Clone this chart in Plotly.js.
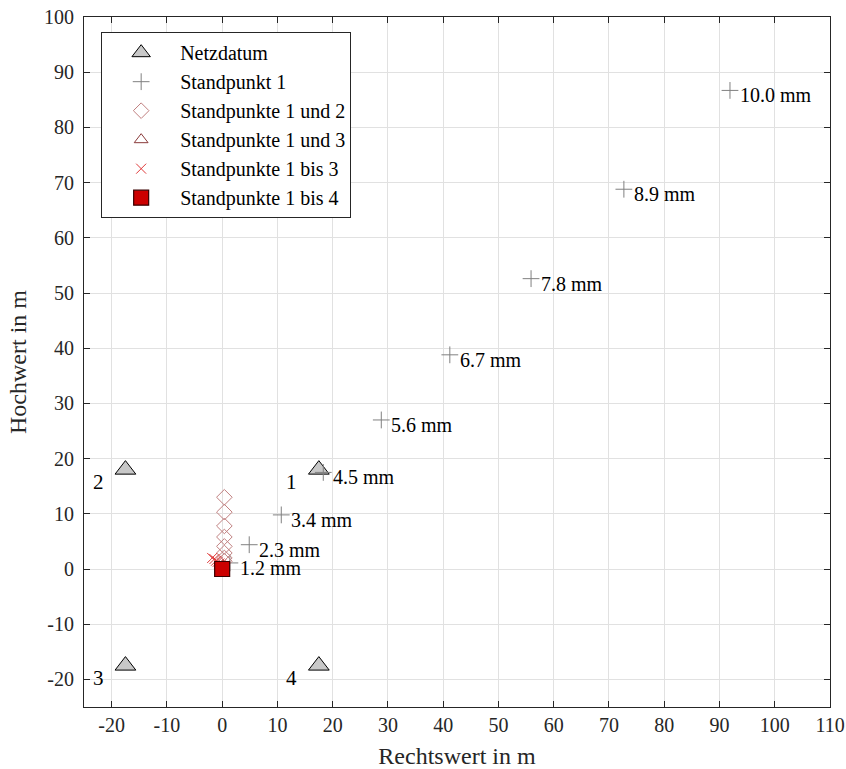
<!DOCTYPE html>
<html>
<head>
<meta charset="utf-8">
<script src="https://cdn.plot.ly/plotly-3.0.1.min.js"></script>
<style>body{margin:0;background:#fff}#chart{width:846px;height:769px}</style>
</head>
<body>
<div id="chart"></div>
<script>
// Netzdatum (network datum points)
const netzX = [17.5, -17.5, -17.5, 17.5];
const netzY = [18, 18, -17.5, -17.5];
const netzLabels = ['1', '2', '3', '4'];

// Standpunkt 1
const sp1X = [1.4, 4.9, 10.7, 18.3, 28.8, 41.2, 55.9, 72.7, 91.9];
const sp1Y = [1.1, 4.4, 9.8, 17.5, 27.0, 38.8, 52.6, 68.8, 86.7];
const sp1Labels = ['1.2 mm', '2.3 mm', '3.4 mm', '4.5 mm', '5.6 mm', '6.7 mm', '7.8 mm', '8.9 mm', '10.0 mm'];

// Standpunkte 1 und 2
const sp12X = [0.4, 0.4, 0.4, 0.4, 0.4, 0.4, 0.4, 0.4];
const sp12Y = [1.4, 2.0, 2.9, 4.1, 5.8, 7.8, 10.3, 13.0];

// Standpunkte 1 und 3
const sp13X = [0.1, 0.1];
const sp13Y = [0.3, 0.6];

// Standpunkte 1 bis 3
const sp123X = [-0.2, -0.5, -0.8, -1.1, -1.4, -1.8];
const sp123Y = [0.8, 1.0, 1.3, 1.5, 1.8, 2.0];

// Standpunkte 1 bis 4
const sp1234X = [0];
const sp1234Y = [0];

// Axis ticks
const xTicks = [-20, -10, 0, 10, 20, 30, 40, 50, 60, 70, 80, 90, 100, 110];
const yTicks = [-20, -10, 0, 10, 20, 30, 40, 50, 60, 70, 80, 90, 100];
const xTickText = ['-20', '-10', '0', '10', '20', '30', '40', '50', '60', '70', '80', '90', '100', '110'];
const yTickText = ['-20', '-10', '0', '10', '20', '30', '40', '50', '60', '70', '80', '90', '100'];

const FONT = 'Liberation Serif, DejaVu Serif, serif';

const traces = [
  {x: netzX, y: netzY, mode: 'markers', name: 'Netzdatum', type: 'scatter',
   marker: {symbol: 'triangle-up', size: 18, color: '#c8c8c8', line: {color: '#000', width: 1}}},
  {x: sp1X, y: sp1Y, mode: 'markers', name: 'Standpunkt 1', type: 'scatter',
   marker: {symbol: 'cross-thin-open', size: 12, color: '#808080', line: {color: '#808080', width: 1}}},
  {x: sp12X, y: sp12Y, mode: 'markers', name: 'Standpunkte 1 und 2', type: 'scatter',
   marker: {symbol: 'diamond-open', size: 12, color: '#c07f7f', line: {color: '#c07f7f', width: 1}}},
  {x: sp13X, y: sp13Y, mode: 'markers', name: 'Standpunkte 1 und 3', type: 'scatter',
   marker: {symbol: 'triangle-up-open', size: 12, color: '#8a3a3a', line: {color: '#8a3a3a', width: 1}}},
  {x: sp123X, y: sp123Y, mode: 'markers', name: 'Standpunkte 1 bis 3', type: 'scatter',
   marker: {symbol: 'x-thin-open', size: 10, color: '#e03a3a', line: {color: '#e03a3a', width: 1}}},
  {x: sp1234X, y: sp1234Y, mode: 'markers', name: 'Standpunkte 1 bis 4', type: 'scatter',
   marker: {symbol: 'square', size: 15, color: '#cc0000', line: {color: '#3a0000', width: 1.2}}}
];

const annotations = [];
sp1X.forEach((x, i) => {
  annotations.push({x: x, y: sp1Y[i], text: sp1Labels[i], showarrow: false,
    xanchor: 'left', yanchor: 'middle', xshift: 8, yshift: -5,
    font: {family: FONT, size: 20, color: '#000'}});
});
netzX.forEach((x, i) => {
  annotations.push({x: x, y: netzY[i], text: netzLabels[i], showarrow: false,
    xanchor: 'center', yanchor: 'middle', xshift: -27, yshift: -12,
    font: {family: FONT, size: 21, color: '#000'}});
});

const axisCommon = {
  showgrid: true, gridcolor: '#e1e1e1', gridwidth: 1,
  zeroline: false, showline: true, linecolor: '#262626', linewidth: 1,
  mirror: 'ticks', ticks: 'inside', ticklen: 6, tickcolor: '#262626',
  tickfont: {family: FONT, size: 20, color: '#262626'}
};

const layout = {
  width: 846, height: 769,
  margin: {l: 84, r: 16, t: 17, b: 62},
  paper_bgcolor: '#fff', plot_bgcolor: '#fff',
  showlegend: true,
  xaxis: Object.assign({}, axisCommon, {
    range: [-25, 110], tickmode: 'array', tickvals: xTicks, ticktext: xTickText,
    title: {text: 'Rechtswert in m', font: {family: FONT, size: 24, color: '#262626'}, standoff: 12}
  }),
  yaxis: Object.assign({}, axisCommon, {
    range: [-25, 100], tickmode: 'array', tickvals: yTicks, ticktext: yTickText,
    ticklabelstandoff: 5,
    title: {text: 'Hochwert in m', font: {family: FONT, size: 24, color: '#262626'}, standoff: 10}
  }),
  legend: {
    x: 0.023, y: 0.978, xanchor: 'left', yanchor: 'top',
    bgcolor: '#fff', bordercolor: '#262626', borderwidth: 1,
    font: {family: FONT, size: 20, color: '#000'},
    tracegroupgap: 0, itemwidth: 68
  },
  annotations: annotations
};

Plotly.newPlot('chart', traces, layout, {displayModeBar: false, staticPlot: true});
</script>
</body>
</html>
